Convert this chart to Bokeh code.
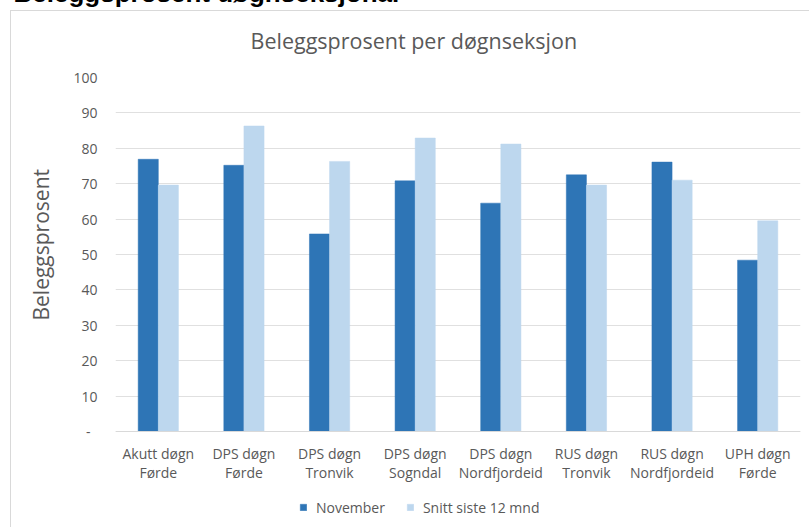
from bokeh.plotting import figure
from bokeh.models import (Range1d, FactorRange, FixedTicker, Title,
                          Legend, LegendItem, ColumnDataSource)
from bokeh.transform import dodge
from bokeh.embed import file_html
from bokeh.resources import INLINE

# ---- data ----
categories = ["Akutt døgn\nFørde", "DPS døgn\nFørde", "DPS døgn\nTronvik",
              "DPS døgn\nSogndal", "DPS døgn\nNordfjordeid", "RUS døgn\nTronvik",
              "RUS døgn\nNordfjordeid", "UPH døgn\nFørde"]
november = [76.9, 75.2, 55.8, 70.8, 64.5, 72.5, 76.1, 48.4]
snitt = [69.6, 86.3, 76.3, 82.9, 81.2, 69.6, 71.0, 59.5]
y_ticks = [0, 10, 20, 30, 40, 50, 60, 70, 80, 90, 100]
series_names = ["November", "Snitt siste 12 mnd"]
heading = "Beleggsprosent døgnseksjonar"
chart_title = "Beleggsprosent per døgnseksjon"
y_label = "Beleggsprosent"

# ---- layout constants (canvas origin is 20px above the page top) ----
SHIFT = 20
W, H = 809, 527 + SHIFT
FL, FR, FT = 115, 800, 77 + SHIFT      # frame left/right/top (canvas px)
ZERO = 431 + SHIFT                      # canvas y of value 0
FB = 520 + SHIFT                        # frame bottom (room for labels + legend)
PX_PER_UNIT = (ZERO - FT) / 100.0
Y_MIN = -(FB - ZERO) / PX_PER_UNIT
GREY = "#595959"
FONT = "Open Sans"
BOX = "#d9d9d9"

src = ColumnDataSource(dict(cat=categories, nov=november, snitt=snitt))

css = {
    "margin-top": f"-{SHIFT}px",
    "background-image": f"linear-gradient({BOX}, {BOX}), linear-gradient({BOX}, {BOX})",
    "background-size": "100% 1px, 1px 100%",
    "background-position": f"10px {10 + SHIFT}px, 10px {10 + SHIFT}px",
    "background-repeat": "no-repeat",
}

p = figure(x_range=FactorRange(*categories), y_range=Range1d(Y_MIN, 100),
           width=W, height=H, output_backend="svg", toolbar_location=None,
           min_border_left=FL, min_border_right=W - FR, min_border_top=FT,
           min_border_bottom=H - FB, styles=css)
p.outline_line_color = None
p.background_fill_color = "white"
p.border_fill_color = None

bw = 0.235
r1 = p.vbar(x=dodge("cat", -bw / 2, range=p.x_range), top="nov", width=bw,
            source=src, fill_color="#2E75B6", line_color="#2E75B6", line_width=0.5)
r2 = p.vbar(x=dodge("cat", bw / 2, range=p.x_range), top="snitt", width=bw,
            source=src, fill_color="#BDD7EE", line_color="#BDD7EE", line_width=0.5)

# axes
p.xgrid.grid_line_color = None
p.ygrid.grid_line_color = "#e0e0e0"
p.ygrid.grid_line_width = 1
p.yaxis.ticker = FixedTicker(ticks=y_ticks)
p.ygrid.ticker = FixedTicker(ticks=y_ticks)
p.yaxis.major_label_overrides = {0: "-\u2002"}
p.yaxis.axis_line_color = None
p.yaxis.major_tick_line_color = None
p.yaxis.minor_tick_line_color = None
p.yaxis.major_tick_out = 0
p.yaxis.major_tick_in = 0
p.yaxis.major_label_standoff = 18
p.yaxis.major_label_text_font = FONT
p.yaxis.major_label_text_font_size = "14px"
p.yaxis.major_label_text_color = GREY

p.xaxis.fixed_location = 0
p.xaxis.axis_line_color = "#d9d9d9"
p.xaxis.major_tick_line_color = None
p.xaxis.minor_tick_line_color = None
p.xaxis.major_tick_out = 0
p.xaxis.major_tick_in = 0
p.xaxis.major_label_standoff = 12
p.xaxis.major_label_text_font = FONT
p.xaxis.major_label_text_font_size = "14px"
p.xaxis.major_label_text_line_height = 1.05
p.xaxis.major_label_text_color = GREY

# y-axis title as a rotated Title in the left panel, centred on the 0-100 span
p.add_layout(Title(text=y_label, align="left", offset=FB - (244 + SHIFT) - 76,
                   vertical_align="bottom", standoff=32, text_font=FONT,
                   text_font_style="normal", text_font_size="21px",
                   text_color=GREY), "left")

# titles (above panel): p.title is outermost, the chart title sits nearer the frame
p.title.text = heading
p.title.align = "left"
p.title.offset = 13 - FL
p.title.text_font = "Liberation Sans"
p.title.text_font_style = "bold"
p.title.text_font_size = "26px"
p.title.text_color = "black"
p.title.standoff = -13
p.add_layout(Title(text=chart_title, align="left", offset=135, text_font=FONT,
                   text_font_style="normal", text_font_size="21.5px", text_color=GREY,
                   standoff=45), "above")

legend = Legend(items=[LegendItem(label=series_names[0], renderers=[r1]),
                       LegendItem(label=series_names[1], renderers=[r2])],
                orientation="horizontal", location=(184, 3), padding=0, margin=0,
                border_line_color=None, background_fill_alpha=0,
                glyph_width=8, glyph_height=8, label_standoff=9, spacing=21,
                label_text_font=FONT, label_text_font_size="14px",
                label_text_color=GREY, label_height=20)
p.add_layout(legend)

open("out.html", "w").write(file_html(p, INLINE))
